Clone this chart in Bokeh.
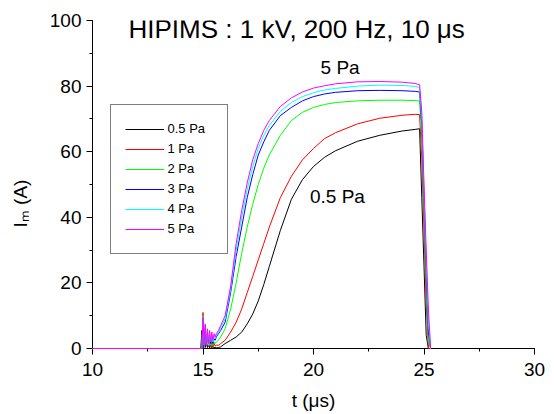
from bokeh.plotting import figure
from bokeh.models import Range1d, SingleIntervalTicker, Legend, LegendItem, Label
from bokeh.embed import file_html
from bokeh.resources import INLINE

# ---- data ----
t_us = [10.0, 14.9, 14.95, 15.0, 15.05, 15.1, 15.15, 15.2, 15.25, 15.3, 15.35, 15.4,
        15.45, 15.5, 15.55, 15.6, 15.7, 15.8, 16.0, 16.25, 16.5, 16.75, 17.0, 17.25,
        17.5, 17.75, 18.0, 18.5, 19.0, 19.5, 20.0, 20.5, 21.0, 22.0, 23.0, 24.0,
        24.6, 24.8, 24.9, 25.0, 25.1, 25.2, 25.3]

i_05pa = [0, 0, 5.5, 0, 3, 0.3, 2, 0.3, 1.5, 0.2, 1, 0.2, 0.6, 0.2, 0.4, 0.2, 0.3, 0.5,
          1.5, 2.5, 3.5, 5, 7.5, 10.5, 14.5, 19.5, 25, 36, 45.5, 51.5, 55.5, 58.3, 60.3,
          63.2, 65, 66.3, 66.8, 67, 46, 25, 4, 0, 0]
i_1pa = [0, 0, 0, 11, 1, 6, 1, 4, 0.5, 3, 0.5, 2, 0.5, 1.5, 0.8, 1, 1, 1.5,
         2.5, 5, 8, 12, 17, 22, 27, 32, 37, 46, 52.5, 57.5, 61, 64, 65.8,
         68.5, 70.2, 71.1, 71.4, 71.3, 58, 36, 14, 0, 0]
i_2pa = [0, 0, 0, 10, 1, 7, 1, 4.5, 1, 3, 1, 2.5, 1, 2, 1.5, 2, 2.5, 3.5,
         6, 12, 20, 29, 37, 44, 50, 55, 59, 65, 69.5, 72, 73.5, 74.4, 75,
         75.5, 75.7, 75.7, 75.6, 75.4, 64, 42, 20, 2, 0]
i_3pa = [0, 0, 0, 9, 1, 6, 1, 5, 1, 4, 1.5, 3, 1.5, 3, 2.5, 3.5, 4.5, 5.5,
         8, 17, 28, 37, 46, 53, 59, 63, 66.5, 71, 73.5, 75.5, 76.8, 77.6, 78.1,
         78.6, 78.7, 78.6, 78.4, 78.2, 68, 46, 24, 5, 0]
i_4pa = [0, 0, 0, 9.5, 1, 7, 1, 5, 1, 4, 2, 3.5, 2, 3.5, 3, 4, 5, 6.5,
         9, 18, 30, 40, 48.5, 55.5, 61, 65, 68, 72.3, 75, 76.8, 78, 78.8, 79.3,
         80, 80.3, 80.2, 79.9, 79.6, 70, 48, 27, 8, 0]
i_5pa = [0, 0, 0, 9.5, 1, 7.5, 1, 6, 1.5, 5.5, 2, 5, 2.5, 4.5, 3.5, 4.5, 5.5, 7,
         10, 19, 32, 42, 50.5, 57.5, 62.5, 66.5, 69.5, 73.8, 76.4, 78.2, 79.4, 80.1, 80.7,
         81.3, 81.4, 81.2, 80.8, 80.4, 72, 50, 30, 12, 0]

series_labels = ["0.5 Pa", "1 Pa", "2 Pa", "3 Pa", "4 Pa", "5 Pa"]
series_values = [i_05pa, i_1pa, i_2pa, i_3pa, i_4pa, i_5pa]
series_colors = ["#000000", "#FF0000", "#00FF00", "#0000FF", "#00FFFF", "#FF00FF"]

title_text = "HIPIMS : 1 kV, 200 Hz, 10 \u03bcs"
x_label_text = "t (\u03bcs)"
y_label_text = "I\u2098 (A)\u2003\u2003"

FONT = "Liberation Sans"

p = figure(width=554, height=414, output_backend="svg", toolbar_location=None,
           x_range=Range1d(10, 30), y_range=Range1d(0, 100),
           min_border_left=92, min_border_right=20, min_border_top=20,
           min_border_bottom=66)
p.outline_line_color = None
p.grid.visible = False
p.background_fill_color = "white"
p.border_fill_color = "white"

p.xaxis.ticker = SingleIntervalTicker(interval=5, num_minor_ticks=2)
p.yaxis.ticker = SingleIntervalTicker(interval=20, num_minor_ticks=2)
for ax in (p.xaxis[0], p.yaxis[0]):
    ax.axis_line_color = "black"
    ax.axis_line_width = 1
    ax.major_tick_line_color = "black"
    ax.minor_tick_line_color = "black"
    ax.major_tick_in = 0
    ax.major_tick_out = 6
    ax.minor_tick_in = 0
    ax.minor_tick_out = 3
    ax.major_label_text_font = FONT
    ax.major_label_text_font_size = "19px"
    ax.major_label_text_color = "black"
    ax.axis_label_text_font = FONT
    ax.axis_label_text_font_size = "19px"
    ax.axis_label_text_font_style = "normal"
    ax.axis_label_text_color = "black"
p.xaxis.major_label_standoff = 8
p.yaxis.major_label_standoff = 5
p.xaxis.axis_label = x_label_text
p.yaxis.axis_label = y_label_text
p.xaxis.axis_label_standoff = 11
p.yaxis.axis_label_standoff = 16

renderers = []
for vals, col in zip(series_values, series_colors):
    r = p.line(t_us, vals, line_color=col, line_width=1, level="annotation")
    renderers.append(r)

items = [LegendItem(label=lab, renderers=[r]) for lab, r in zip(series_labels, renderers)]
legend = Legend(items=items, location=(17.5, 94.5), orientation="vertical",
                border_line_color="black", border_line_width=1,
                background_fill_color="white", background_fill_alpha=1,
                label_text_font=FONT, label_text_font_size="13px",
                label_text_color="black", label_standoff=4,
                glyph_width=39, glyph_height=20, label_height=20, label_width=45,
                padding=14, spacing=0, margin=0)
p.add_layout(legend, "center")

p.add_layout(Label(x=11.63, y=97.4, text=title_text, text_font=FONT,
                   text_font_size="26px", text_color="black",
                   text_align="left", text_baseline="alphabetic"))
p.add_layout(Label(x=20.32, y=85.7, text="5 Pa", text_font=FONT,
                   text_font_size="19px", text_color="black",
                   text_align="left", text_baseline="alphabetic"))
p.add_layout(Label(x=19.84, y=46.3, text="0.5 Pa", text_font=FONT,
                   text_font_size="19px", text_color="black",
                   text_align="left", text_baseline="alphabetic"))

open("out.html", "w").write(file_html(p, INLINE))
